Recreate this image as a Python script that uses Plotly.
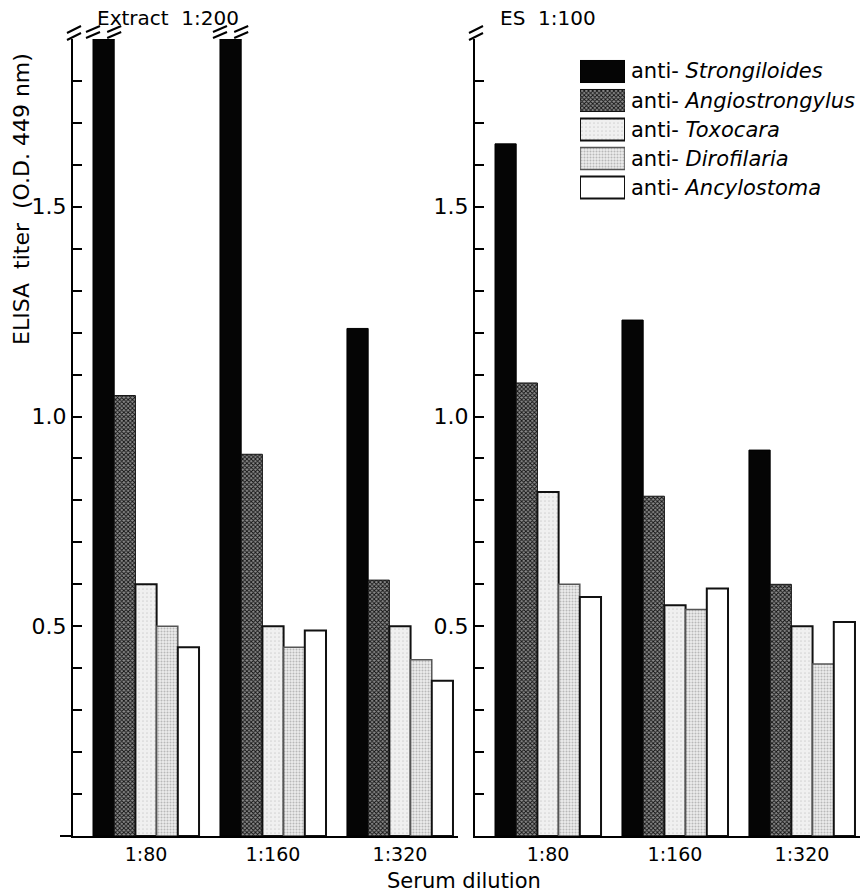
import plotly.graph_objects as go

# ---- data -------------------------------------------------------------
dilutions = ["1:80", "1:160", "1:320"]
antisera = ["Strongiloides", "Angiostrongylus", "Toxocara", "Dirofilaria", "Ancylostoma"]

# ELISA readings (O.D. 449 nm), antigen: worm extract 1:200
# (the first two anti-Strongiloides readings run past the top of the scale)
extract_strongiloides = [1.90, 1.90, 1.21]
extract_angiostrongylus = [1.05, 0.91, 0.61]
extract_toxocara = [0.60, 0.50, 0.50]
extract_dirofilaria = [0.50, 0.45, 0.42]
extract_ancylostoma = [0.45, 0.49, 0.37]

# ELISA readings (O.D. 449 nm), antigen: ES product 1:100
es_strongiloides = [1.65, 1.23, 0.92]
es_angiostrongylus = [1.08, 0.81, 0.60]
es_toxocara = [0.82, 0.55, 0.50]
es_dirofilaria = [0.60, 0.54, 0.41]
es_ancylostoma = [0.57, 0.59, 0.51]

y_tick_values = [round(0.1 * k, 1) for k in range(1, 19)]
y_tick_labelled = {0.5: "0.5", 1.0: "1.0", 1.5: "1.5"}

panel_titles = ["Extract  1:200", "ES  1:100"]

# ---- geometry / style ------------------------------------------------------
W_PX, H_PX = 866, 893
Y_MAX = 1.9
X_RANGE = [-0.575, 2.457]
GROUP_W = 0.835
BAR_W = GROUP_W / 5
FONT = "DejaVu Sans"


def px_x(p):
    return p / W_PX


def px_y(p):
    return 1 - p / H_PX


Y_DOMAIN = [px_y(836), px_y(39)]
X1_DOMAIN = [px_x(73), px_x(458)]
X2_DOMAIN = [px_x(475), px_x(860)]

styles = [
    dict(color="#050505", line=dict(color="#000000", width=1)),
    dict(color="#555555",
         pattern=dict(shape="x", size=3, solidity=0.5, fgcolor="#111111",
                      bgcolor="#8c8c8c", fillmode="replace"),
         line=dict(color="#111111", width=1)),
    dict(color="#eeeeee",
         pattern=dict(shape=".", size=4, solidity=0.15, fgcolor="#d4d4d4",
                      bgcolor="#f0f0f0", fillmode="replace"),
         line=dict(color="#111111", width=2)),
    dict(color="#e2e2e2",
         pattern=dict(shape=".", size=3, solidity=0.35, fgcolor="#b8b8b8",
                      bgcolor="#ececec", fillmode="replace"),
         line=dict(color="#555555", width=1.5)),
    dict(color="#ffffff", line=dict(color="#111111", width=2)),
]

fig = go.Figure()

panels = [
    ("x", "y", [extract_strongiloides, extract_angiostrongylus, extract_toxocara,
                extract_dirofilaria, extract_ancylostoma]),
    ("x2", "y2", [es_strongiloides, es_angiostrongylus, es_toxocara,
                  es_dirofilaria, es_ancylostoma]),
]

shapes = []
for xa, ya, series in panels:
    for i, (name, vals) in enumerate(zip(antisera, series)):
        offset = -GROUP_W / 2 + i * BAR_W
        fig.add_trace(go.Bar(
            x=dilutions, y=[min(v, Y_MAX) for v in vals],
            width=BAR_W, offset=offset,
            marker=styles[i], name="anti-" + name,
            xaxis=xa, yaxis=ya, showlegend=False,
            hovertemplate="%{x}: %{y}<extra>anti-" + name + "</extra>",
        ))
        # break marks on bars that run off the scale
        for k, v in enumerate(vals):
            if v >= Y_MAX:
                left = k + offset
                for edge in (left, left + BAR_W):
                    for dy in (0, 6):
                        shapes.append(dict(
                            type="line", xref=xa, yref="paper",
                            xsizemode="pixel", xanchor=edge,
                            ysizemode="pixel", yanchor=Y_DOMAIN[1],
                            x0=-7, x1=7, y0=1 + dy, y1=7 + dy,
                            line=dict(color="black", width=2)))

# break marks at the top of each y axis
for dom in (X1_DOMAIN, X2_DOMAIN):
    for dy in (0, 7):
        shapes.append(dict(
            type="line", xref="paper", yref="paper",
            xsizemode="pixel", xanchor=dom[0],
            ysizemode="pixel", yanchor=Y_DOMAIN[1],
            x0=-6, x1=8, y0=-1 + dy, y1=6 + dy,
            line=dict(color="black", width=2)))

# small extension of the left baseline past the y axis
shapes.append(dict(type="line", xref="paper", yref="paper",
                   x0=px_x(60), x1=X1_DOMAIN[0], y0=Y_DOMAIN[0], y1=Y_DOMAIN[0],
                   line=dict(color="black", width=2)))

# ---- key (swatches drawn as bars on a hidden axis) -------------------------
for i, name in enumerate(antisera):
    fig.add_trace(go.Bar(
        y=[i], x=[1], base=0, orientation="h", width=0.76,
        marker=styles[i], xaxis="x3", yaxis="y3", showlegend=False,
        hoverinfo="skip"))

annotations = []
key_top, key_step = 57, 29
for i, name in enumerate(antisera):
    annotations.append(dict(
        text="anti- <i>" + name + "</i>", x=px_x(629), y=px_y(key_top + key_step * (i + 0.5)),
        xref="paper", yref="paper", xanchor="left", yanchor="middle",
        showarrow=False, font=dict(family=FONT, size=21, color="black")))

for title, left in zip(panel_titles, (95, 498)):
    annotations.append(dict(
        text=title, x=px_x(left), y=px_y(18), xref="paper", yref="paper",
        xanchor="left", yanchor="middle", showarrow=False,
        font=dict(family=FONT, size=20, color="black")))

annotations.append(dict(
    text="ELISA  titer  (O.D. 449 nm)", x=px_x(22), y=px_y(199),
    xref="paper", yref="paper", textangle=-90, showarrow=False,
    xanchor="center", yanchor="middle",
    font=dict(family=FONT, size=22, color="black")))

annotations.append(dict(
    text="Serum dilution", x=px_x(464), y=px_y(881), xref="paper", yref="paper",
    xanchor="center", yanchor="middle", showarrow=False,
    font=dict(family=FONT, size=21, color="black")))

# ---- axes -----------------------------------------------------------------
x_common = dict(
    type="category", range=X_RANGE, showline=True, linecolor="black", linewidth=2,
    ticks="", showgrid=False, zeroline=False, fixedrange=True,
    tickfont=dict(family=FONT, size=19, color="black"), ticklabelstandoff=0)

y_common = dict(
    range=[0, Y_MAX], domain=Y_DOMAIN, showline=True, linecolor="black", linewidth=2,
    ticks="inside", ticklen=9, tickwidth=2, tickcolor="black",
    tickmode="array", tickvals=y_tick_values,
    ticktext=[y_tick_labelled.get(v, "") for v in y_tick_values],
    showgrid=False, zeroline=False, fixedrange=True,
    tickfont=dict(family=FONT, size=22, color="black"))

fig.update_layout(
    width=W_PX, height=H_PX,
    margin=dict(l=0, r=0, t=0, b=0),
    paper_bgcolor="white", plot_bgcolor="rgba(0,0,0,0)",
    barmode="overlay",
    font=dict(family=FONT, color="black"),
    xaxis=dict(domain=X1_DOMAIN, anchor="y", **x_common),
    yaxis=dict(anchor="x", **y_common),
    xaxis2=dict(domain=X2_DOMAIN, anchor="y2", **x_common),
    yaxis2=dict(anchor="x2", **y_common),
    xaxis3=dict(domain=[px_x(580), px_x(625)], anchor="y3", range=[0, 1],
                visible=False, fixedrange=True),
    yaxis3=dict(domain=[px_y(57 + 5 * 29), px_y(57)], anchor="x3", range=[4.5, -0.5],
                visible=False, fixedrange=True),
    shapes=shapes,
    annotations=annotations,
    showlegend=False,
)

fig.write_html("out.html")
